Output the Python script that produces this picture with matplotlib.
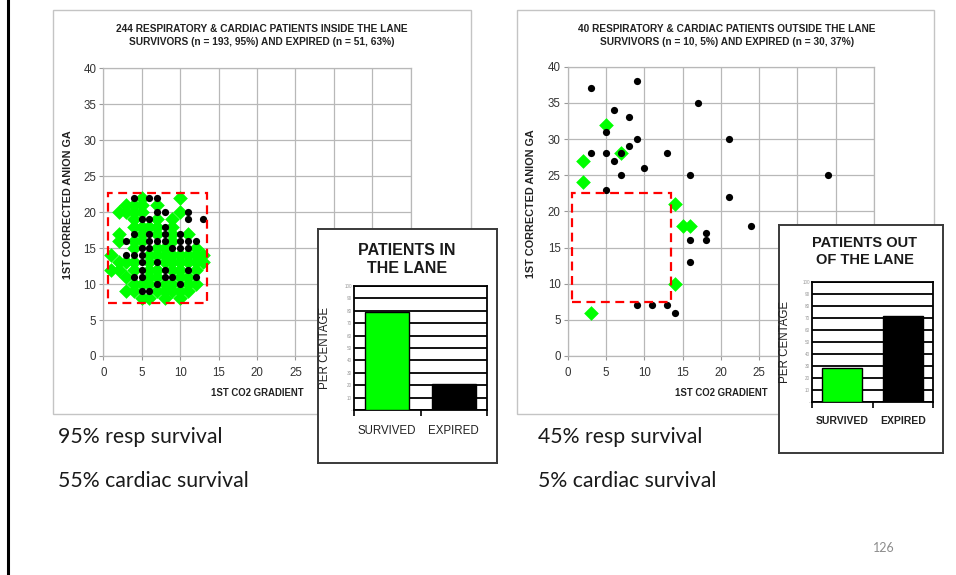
import matplotlib
matplotlib.use("Agg")
import matplotlib.pyplot as plt
from matplotlib.patches import Rectangle
from matplotlib.lines import Line2D

W, H = 956, 575

# --- data: inside the lane (left) ---
lane_surv_x = [5, 10,
               3, 4, 5, 7,
               2, 3, 4, 5, 10,
               4, 7, 9,
               4, 5, 6, 7, 9,
               2, 5, 7, 9, 11,
               2, 4, 5, 9,
               4, 7, 8, 12,
               1, 6, 7, 8, 9, 10, 11, 12, 13,
               2, 3, 4, 6, 8, 9, 10, 11, 12, 13,
               1, 2, 4, 6, 7, 9, 10, 12,
               3, 6, 7, 10, 11,
               4, 5, 6, 8, 9, 11, 12,
               3, 4, 7, 8, 9, 10, 11,
               5, 6, 8, 10]
lane_surv_y = [22, 22,
               21, 21, 21, 21,
               20, 20, 20, 20, 20,
               19, 19, 19,
               18, 18, 18, 18, 18,
               17, 17, 17, 17, 17,
               16, 16, 16, 16,
               15, 15, 15, 15,
               14, 14, 14, 14, 14, 14, 14, 14, 14,
               13, 13, 13, 13, 13, 13, 13, 13, 13, 13,
               12, 12, 12, 12, 12, 12, 12, 12,
               11, 11, 11, 11, 11,
               10, 10, 10, 10, 10, 10, 10,
               9, 9, 9, 9, 9, 9, 9,
               8, 8, 8, 8]
lane_exp_x = [4, 6, 7, 7, 8, 11, 5, 6, 11, 13, 8, 4, 6, 8, 10,
              3, 6, 7, 8, 10, 11, 12, 5, 6, 9, 10, 11, 3, 4, 5,
              5, 7, 5, 8, 11, 4, 5, 8, 9, 12, 7, 10, 5, 6]
lane_exp_y = [22, 22, 22, 20, 20, 20, 19, 19, 19, 19, 18, 17, 17, 17, 17,
              16, 16, 16, 16, 16, 16, 16, 15, 15, 15, 15, 15, 14, 14, 14,
              13, 13, 12, 12, 12, 11, 11, 11, 11, 11, 10, 10, 9, 9]

# --- data: outside the lane (right) ---
out_surv_x = [5, 2, 7, 2, 14, 15, 16, 14, 3]
out_surv_y = [32, 27, 28, 24, 21, 18, 18, 10, 6]
out_exp_x = [3, 9, 17, 6, 8, 5, 9, 21, 8, 3, 5, 7, 13, 6, 10, 7, 16, 34,
             5, 21, 24, 18, 16, 18, 16, 9, 11, 13, 14]
out_exp_y = [37, 38, 35, 34, 33, 31, 30, 30, 29, 28, 28, 28, 28, 27, 26, 25, 25, 25,
             23, 22, 18, 17, 16, 16, 13, 7, 7, 7, 6]

bar_cats = ["SURVIVED", "EXPIRED"]
lane_pct = [79, 21]
out_pct = [28, 72]
bar_colors = ["#00ff00", "#000000"]

scatter_titles = [
    "244 RESPIRATORY & CARDIAC PATIENTS INSIDE THE LANE\nSURVIVORS (n = 193, 95%) AND EXPIRED (n = 51, 63%)",
    "40 RESPIRATORY & CARDIAC PATIENTS OUTSIDE THE LANE\nSURVIVORS (n = 10, 5%) AND EXPIRED (n = 30, 37%)",
]
inset_titles = ["PATIENTS IN\nTHE LANE", "PATIENTS OUT\nOF THE LANE"]
notes = [["95% resp survival", "55% cardiac survival"],
         ["45% resp survival", "5% cardiac survival"]]

plt.rcParams['font.family'] = ['Liberation Sans', 'DejaVu Sans']

fig = plt.figure(figsize=(W / 100, H / 100), dpi=100)


def px_axes(x0, y0, x1, y1, **kw):
    return fig.add_axes([x0 / W, 1 - y1 / H, (x1 - x0) / W, (y1 - y0) / H], **kw)


def px_text(x, y, s, **kw):
    return fig.text(x / W, 1 - y / H, s, **kw)


# slide left border
fig.add_artist(Line2D([7.5 / W, 7.5 / W], [0, 1], color="black", lw=2.2))


def draw_scatter(box, area, title, title_x, sx, sy, ex, ey):
    bx0, by0, bx1, by1 = box
    fig.add_artist(Rectangle((bx0 / W, 1 - by1 / H), (bx1 - bx0) / W, (by1 - by0) / H,
                             transform=fig.transFigure, facecolor="white",
                             edgecolor="#c4c4c4", lw=1.0, zorder=-1))
    ax = px_axes(*area)
    ax.set_xlim(0, 40)
    ax.set_ylim(0, 40)
    xt = list(range(0, 41, 5))
    ax.set_xticks(xt)
    # labels beyond 25 sit under the inset box, so leave them empty
    ax.set_xticklabels([str(v) if v <= 25 else "" for v in xt])
    ax.set_yticks(range(0, 41, 5))
    ax.grid(True, color="#b8b8b8", lw=0.9)
    ax.set_axisbelow(True)
    for sp in ax.spines.values():
        sp.set_color("#b8b8b8")
        sp.set_linewidth(0.9)
    ax.tick_params(colors="#9a9a9a", labelcolor="#333333", labelsize=8.3, length=3)
    ax.tick_params(axis="x", pad=5)
    ax.tick_params(axis="y", pad=2)
    ax.scatter(sx, sy, marker="D", s=56, color="#00ff00", linewidths=0, zorder=3)
    ax.scatter(ex, ey, marker="o", s=27, color="black", linewidths=0, zorder=3.5)
    ax.add_patch(Rectangle((0.6, 7.4), 12.9, 15.2, fill=False, edgecolor="#ff0000",
                           lw=1.6, linestyle=(0, (4, 2.5)), zorder=4, clip_on=False))
    px_text(title_x, 35.5, title, ha="center", va="center", fontsize=7.3,
            fontweight="bold", color="#222222", linespacing=1.45)
    cx = (area[0] + area[2]) / 2
    px_text(cx, 393, "1ST CO2 GRADIENT", ha="center", va="center", fontsize=6.9,
            fontweight="bold", color="#222222")
    return ax


ax1 = draw_scatter((53, 10, 471, 414), (103.3, 68.3, 410.7, 356), scatter_titles[0], 262,
                   lane_surv_x, lane_surv_y, lane_exp_x, lane_exp_y)
px_text(68, 205, "1ST CORRECTED ANION GA", rotation=90, ha="center", va="center",
        fontsize=7.8, fontweight="bold", color="#222222")
ax2 = draw_scatter((517, 10, 934, 414), (567.7, 66.7, 874, 356), scatter_titles[1], 727,
                   out_surv_x, out_surv_y, out_exp_x, out_exp_y)
px_text(531.5, 204, "1ST CORRECTED ANION GA", rotation=90, ha="center", va="center",
        fontsize=7.8, fontweight="bold", color="#222222")


def draw_inset(box, area, title, title_xy, title_size, pct, xl_weight, xl_size, xl_pad, lab_x):
    bg = px_axes(*box)
    bg.set_zorder(3)
    bg.set_xticks([])
    bg.set_yticks([])
    for sp in bg.spines.values():
        sp.set_color("#3a3a3a")
        sp.set_linewidth(1.4)
    px_text(title_xy[0], title_xy[1], title, ha="center", va="center", fontsize=title_size,
            fontweight="bold", color="#1a1a1a", linespacing=1.25, zorder=5)
    ax = px_axes(*area)
    ax.set_zorder(4)
    ax.set_xlim(-0.5, 1.5)
    ax.set_ylim(0, 100)
    ax.set_yticks(range(0, 101, 10))
    ax.set_yticklabels(["-"] + [str(v) for v in range(10, 101, 10)])
    ax.yaxis.grid(True, color="black", lw=1.3)
    ax.set_axisbelow(True)
    ax.bar(range(len(bar_cats)), pct, width=0.66, color=bar_colors, edgecolor="black",
           lw=1.0, zorder=3)
    ax.set_xticks(range(len(bar_cats)))
    ax.set_xticklabels(bar_cats, fontsize=xl_size, fontweight=xl_weight, color="#222222")
    ax.set_xticks([-0.5, 0.5, 1.5], minor=True)
    ax.tick_params(axis="x", which="major", length=0, pad=xl_pad)
    ax.tick_params(axis="x", which="minor", length=4, width=1.2, direction="out")
    ax.tick_params(axis="y", length=0, labelsize=3.3, labelcolor="#9a9a9a", pad=1.5)
    for sp in ax.spines.values():
        sp.set_color("black")
        sp.set_linewidth(1.3)
    ax.set_ylabel("PER CENTAGE", fontsize=8.3, color="#222222")
    ax.yaxis.set_label_coords(lab_x, 0.5)
    return ax


draw_inset((318, 229, 497, 463), (354, 286, 487, 410), inset_titles[0], (407, 259.5), 11.5,
           lane_pct, "normal", 8.3, 11, -0.175)
draw_inset((779, 225, 943, 453), (812, 282, 933, 402), inset_titles[1], (865, 251.5), 10.5,
           out_pct, "bold", 7.5, 10, -0.17)

for (x, lines) in zip([58, 538], notes):
    px_text(x, 437, lines[0], ha="left", va="center", fontsize=15.3, family="Lato",
            color="#1a1a1a")
    px_text(x, 481, lines[1], ha="left", va="center", fontsize=15.3, family="Lato",
            color="#1a1a1a")

px_text(884, 548, "126", ha="center", va="center", fontsize=9, family="Lato", color="#8c8c8c")

fig.savefig("out.png", dpi=100)
